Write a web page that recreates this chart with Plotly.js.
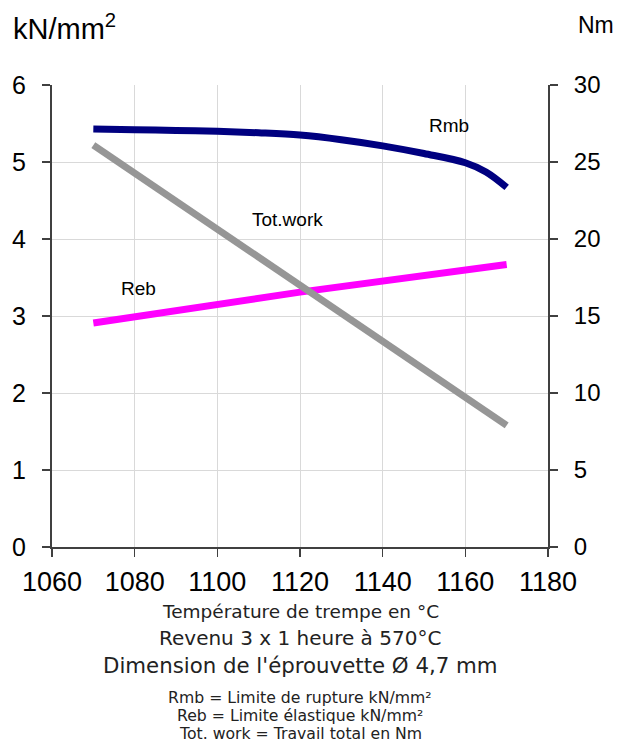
<!DOCTYPE html>
<html><head><meta charset="utf-8">
<script src="https://cdn.plot.ly/plotly-3.0.1.min.js"></script>
<style>body{margin:0;padding:0;background:#fff}#chart{width:622px;height:744px}</style>
</head><body><div id="chart"></div>
<script>
// Data
const rmbTemp = [1070, 1080, 1090, 1100, 1110, 1120, 1130, 1140, 1150, 1160, 1165, 1170];
const rmbVals = [5.43, 5.42, 5.41, 5.40, 5.38, 5.35, 5.29, 5.21, 5.11, 4.99, 4.87, 4.67];
const rebTemp = [1070, 1120, 1170];
const rebVals = [2.91, 3.31, 3.67];
const workTemp = [1070, 1120, 1170];
const workVals = [26.1, 17.0, 7.9];
const xTicks = [1060, 1080, 1100, 1120, 1140, 1160, 1180];
const seriesLabels = ['Rmb', 'Reb', 'Tot.work'];

const traces = [
  {x: rmbTemp, y: rmbVals, type: 'scatter', mode: 'lines', name: seriesLabels[0],
   line: {color: '#000080', width: 7, shape: 'spline'}},
  {x: rebTemp, y: rebVals, type: 'scatter', mode: 'lines', name: seriesLabels[1],
   line: {color: '#FF00FF', width: 7}},
  {x: workTemp, y: workVals, type: 'scatter', mode: 'lines', name: seriesLabels[2], yaxis: 'y2',
   line: {color: '#969696', width: 7}}
];

const arial = 'Liberation Sans, Arial, sans-serif';
const noteFam = 'DejaVu Sans, Verdana, sans-serif';

const layout = {
  width: 622, height: 744,
  margin: {l: 52, r: 74, t: 85, b: 197},
  paper_bgcolor: '#fff', plot_bgcolor: '#fff',
  showlegend: false,
  xaxis: {
    range: [1060, 1180], tickvals: xTicks, ticktext: xTicks.map(String),
    showgrid: true, gridcolor: '#d9d9d9', gridwidth: 1,
    showline: true, linecolor: '#404040', linewidth: 2,
    ticks: 'outside', ticklen: 8, tickcolor: '#404040', tickwidth: 1.5,
    tickfont: {family: arial, size: 27, color: '#000'}, ticklabelstandoff: 2, zeroline: false
  },
  yaxis: {
    range: [0, 6], dtick: 1, tick0: 0,
    showgrid: true, gridcolor: '#d9d9d9', gridwidth: 1,
    showline: true, linecolor: '#404040', linewidth: 2,
    ticks: 'outside', ticklen: 8, tickcolor: '#404040', tickwidth: 1.5,
    tickfont: {family: arial, size: 25, color: '#000'}, ticklabelstandoff: 11, zeroline: false
  },
  yaxis2: {
    range: [0, 30], dtick: 5, tick0: 0, overlaying: 'y', side: 'right',
    showgrid: false,
    showline: true, linecolor: '#404040', linewidth: 2,
    ticks: 'outside', ticklen: 8, tickcolor: '#404040', tickwidth: 1.5,
    tickfont: {family: arial, size: 24, color: '#000'}, ticklabelstandoff: 11, zeroline: false
  },
  annotations: [
    {text: 'kN/mm<sup>2</sup>', xref: 'paper', yref: 'paper', x: -0.08, xshift: -1, y: 1.0, yshift: 58,
     xanchor: 'left', yanchor: 'middle', showarrow: false, font: {family: arial, size: 29, color: '#000'}},
    {text: 'Nm', xref: 'paper', yref: 'paper', x: 1.0, xshift: 28, y: 1.0, yshift: 60,
     xanchor: 'left', yanchor: 'middle', showarrow: false, font: {family: arial, size: 23, color: '#000'}},
    {text: seriesLabels[0], x: 1156, y: 5.47, showarrow: false, xanchor: 'center', yanchor: 'middle',
     font: {family: arial, size: 19, color: '#000'}},
    {text: seriesLabels[2], x: 1117, y: 4.25, showarrow: false, xanchor: 'center', yanchor: 'middle',
     font: {family: arial, size: 19, color: '#000'}},
    {text: seriesLabels[1], x: 1081, y: 3.36, showarrow: false, xanchor: 'center', yanchor: 'middle',
     font: {family: arial, size: 19, color: '#000'}},
    {text: 'Température de trempe en °C', xref: 'paper', yref: 'paper', x: 0.5, y: 0, yshift: -64,
     xanchor: 'center', yanchor: 'middle', showarrow: false, font: {family: noteFam, size: 18.5, color: '#222'}},
    {text: 'Revenu 3 x 1 heure à 570°C', xref: 'paper', yref: 'paper', x: 0.5, y: 0, yshift: -91,
     xanchor: 'center', yanchor: 'middle', showarrow: false, font: {family: noteFam, size: 20, color: '#222'}},
    {text: "Dimension de l'éprouvette Ø 4,7 mm", xref: 'paper', yref: 'paper', x: 0.5, y: 0, yshift: -118,
     xanchor: 'center', yanchor: 'middle', showarrow: false, font: {family: noteFam, size: 21.3, color: '#222'}},
    {text: 'Rmb = Limite de rupture kN/mm²', xref: 'paper', yref: 'paper', x: 0.5, y: 0, yshift: -150,
     xanchor: 'center', yanchor: 'middle', showarrow: false, font: {family: noteFam, size: 15.7, color: '#222'}},
    {text: 'Reb = Limite élastique kN/mm²', xref: 'paper', yref: 'paper', x: 0.5, y: 0, yshift: -168,
     xanchor: 'center', yanchor: 'middle', showarrow: false, font: {family: noteFam, size: 15.7, color: '#222'}},
    {text: 'Tot. work = Travail total en Nm', xref: 'paper', yref: 'paper', x: 0.5, y: 0, yshift: -186,
     xanchor: 'center', yanchor: 'middle', showarrow: false, font: {family: noteFam, size: 15.7, color: '#222'}}
  ]
};

Plotly.newPlot('chart', traces, layout, {displayModeBar: false, staticPlot: true});
</script></body></html>
